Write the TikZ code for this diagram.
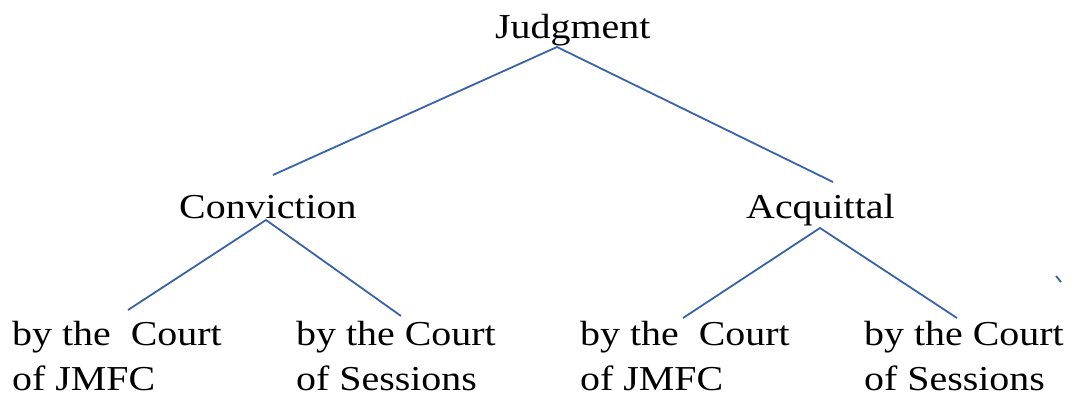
\documentclass[tikz,border=0pt]{standalone}
\usepackage{fontspec}
\setmainfont[FakeStretch=1.14]{Liberation Serif}
\definecolor{linkblue}{RGB}{58,98,168}
\begin{document}
\begin{tikzpicture}[x=1pt,y=-1pt,
  lbl/.style={inner sep=0pt,anchor=base west,font=\fontsize{35}{45}\selectfont},
  blk/.style={inner sep=0pt,anchor=north west,align=left,font=\fontsize{35}{45}\selectfont},
  link/.style={draw=linkblue,line width=1.8pt}]
\useasboundingbox (0,0) rectangle (1075,396);
\node[lbl] (judg) at (495,38) {Judgment};
\node[lbl] (conv) at (179,218) {Conviction};
\node[lbl] (acq) at (746,218) {Acquittal};
\node[blk] (c1) at (12,321) {by the\ \ Court\\of JMFC};
\node[blk] (c2) at (296,321) {by the Court\\of Sessions};
\node[blk] (a1) at (580,321) {by the\ \ Court\\of JMFC};
\node[blk] (a2) at (864,321) {by the Court\\of Sessions};
\coordinate (jt) at (557,47);
\coordinate (jl) at (273,175);
\coordinate (jr) at (833,182);
\coordinate (ct) at (266,220);
\coordinate (cl) at (128,310);
\coordinate (cr) at (401,316);
\coordinate (at) at (820,228);
\coordinate (al) at (683,318);
\coordinate (ar) at (957,318);
\coordinate (s1) at (1056,276);
\coordinate (s2) at (1061,282);
\draw[link] (jl) -- (jt) -- (jr);
\draw[link] (cl) -- (ct) -- (cr);
\draw[link] (al) -- (at) -- (ar);
\draw[link] (s1) -- (s2);
\end{tikzpicture}
\end{document}
